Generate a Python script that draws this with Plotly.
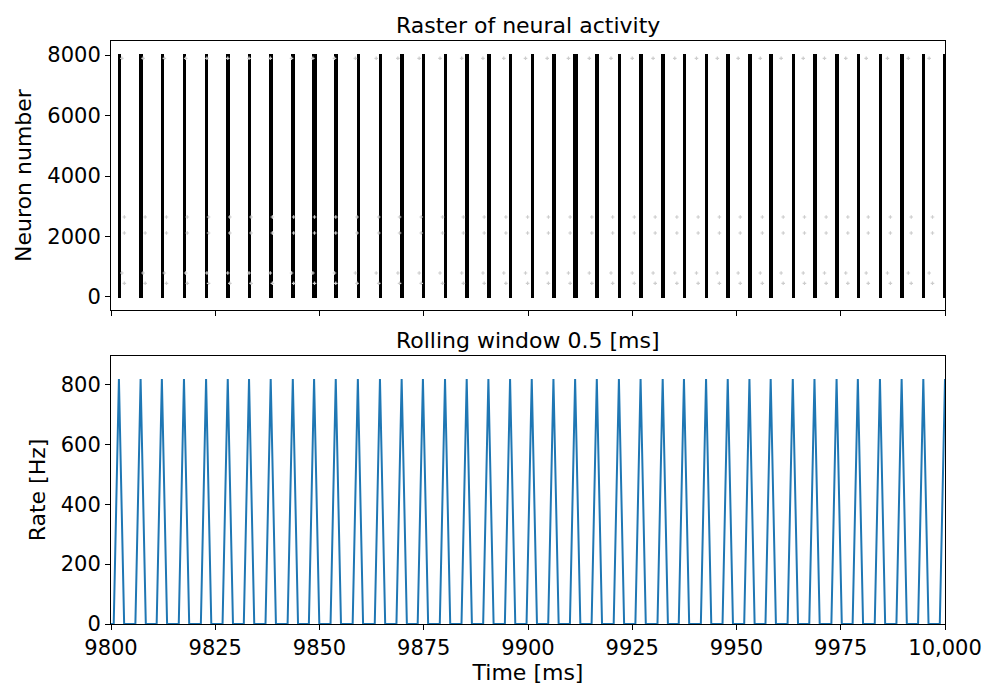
import plotly.graph_objects as go

# ---------------- data ----------------
# population burst times (ms) in the raster and their widths (ms)
burst_t = [9802.0, 9807.2, 9812.3, 9817.6, 9822.9, 9828.1, 9833.2, 9838.4, 9843.7,
           9848.8, 9854.0, 9859.3, 9864.6, 9869.8, 9874.9, 9880.2, 9885.4, 9890.6,
           9895.8, 9901.0, 9906.2, 9911.4, 9916.6, 9921.9, 9927.1, 9932.4, 9937.5,
           9942.8, 9948.0, 9953.2, 9958.3, 9963.6, 9968.8, 9974.1, 9979.2, 9984.5,
           9989.7, 9994.9, 10000.0]
burst_w = [0.84, 1.06, 0.84, 0.84, 0.84, 1.06, 0.78, 0.84, 0.84,
           1.12, 0.84, 0.84, 0.84, 1.06, 0.78, 0.84, 0.78, 1.06, 0.84,
           0.78, 1.06, 0.98, 0.84, 0.78, 0.98, 0.98, 0.84, 0.78, 0.98, 0.84,
           0.78, 0.78, 0.98, 0.98, 0.78, 0.78, 0.84, 0.84, 0.84]
neuron_min = -40
neuron_max = 8040

# sparse spikes of two small neuron groups
groupA_neurons = [7891, 793]
groupA_t = [9802.6, 9807.7, 9812.8, 9817.9, 9823.0, 9828.0, 9833.1, 9838.2, 9843.3,
            9848.4, 9853.6, 9858.6, 9863.6, 9868.8, 9873.9, 9878.9, 9884.1, 9889.2,
            9894.2, 9899.4, 9904.6, 9909.7, 9914.7, 9919.9, 9925.0, 9930.0, 9935.2,
            9940.4, 9945.4, 9950.4, 9955.7, 9960.7, 9966.0, 9971.1, 9976.2, 9981.1,
            9986.2, 9991.2, 9996.2]
groupB_neurons = [2645, 2116, 453]
groupB_t = [9803.2, 9808.2, 9813.3, 9818.3, 9823.4, 9828.5, 9833.6, 9838.7, 9843.8,
            9848.8, 9853.9, 9859.0, 9864.2, 9869.2, 9874.4, 9879.5, 9884.5, 9889.5,
            9894.7, 9899.9, 9904.9, 9910.1, 9915.3, 9920.3, 9925.5, 9930.5, 9935.7,
            9940.8, 9945.9, 9950.9, 9956.2, 9961.2, 9966.3, 9971.5, 9976.7, 9981.6,
            9986.9, 9991.9, 9997.0]

# population rate (rolling window 0.5 ms): onset, peak, offset of each burst
rate_onset = [9800.65, 9805.85, 9810.95, 9816.25, 9821.55, 9826.75, 9831.85, 9837.05,
              9842.35, 9847.45, 9852.65, 9857.95, 9863.25, 9868.45, 9873.55, 9878.85,
              9884.05, 9889.25, 9894.45, 9899.65, 9904.85, 9910.05, 9915.25, 9920.55,
              9925.75, 9931.05, 9936.15, 9941.45, 9946.65, 9951.85, 9956.95, 9962.25,
              9967.45, 9972.75, 9977.85, 9983.15, 9988.35, 9993.55, 9998.75]
rate_peak_t = [9801.9, 9807.1, 9812.2, 9817.5, 9822.8, 9828.0, 9833.1, 9838.3, 9843.6,
               9848.7, 9853.9, 9859.2, 9864.5, 9869.7, 9874.8, 9880.1, 9885.3, 9890.5,
               9895.7, 9900.9, 9906.1, 9911.3, 9916.5, 9921.8, 9927.0, 9932.3, 9937.4,
               9942.7, 9947.9, 9953.1, 9958.2, 9963.5, 9968.7, 9974.0, 9979.1, 9984.4,
               9989.6, 9994.8, 10000.0]
rate_offset = [9803.15, 9808.35, 9813.45, 9818.75, 9824.05, 9829.25, 9834.35, 9839.55,
               9844.85, 9849.95, 9855.15, 9860.45, 9865.75, 9870.95, 9876.05, 9881.35,
               9886.55, 9891.75, 9896.95, 9902.15, 9907.35, 9912.55, 9917.75, 9923.05,
               9928.25, 9933.55, 9938.65, 9943.95, 9949.15, 9954.35, 9959.45, 9964.75,
               9969.95, 9975.25, 9980.35, 9985.65, 9990.85, 9996.05, None]
rate_peak_hz = [818] * 39
rate_base_hz = 0
t_start = 9800

x_ticks = [9800, 9825, 9850, 9875, 9900, 9925, 9950, 9975, 10000]
x_ticklabels = ["9800", "9825", "9850", "9875", "9900", "9925", "9950", "9975", "10,000"]
raster_yticks = [0, 2000, 4000, 6000, 8000]
rate_yticks = [0, 200, 400, 600, 800]

# ---------------- build ----------------
FONT = "DejaVu Sans"
fig = go.Figure()

# sparse spikes (drawn first, under bars)
sx, sy = [], []
for n in groupA_neurons:
    sx += groupA_t
    sy += [n] * len(groupA_t)
for n in groupB_neurons:
    sx += groupB_t
    sy += [n] * len(groupB_t)
fig.add_trace(go.Scatter(x=sx, y=sy, mode="markers", xaxis="x", yaxis="y",
                         marker=dict(symbol="cross", size=3, color="#cdcdcd",
                                     line=dict(width=0)),
                         showlegend=False, hoverinfo="skip"))

fig.add_trace(go.Bar(x=burst_t, y=[neuron_max - neuron_min] * len(burst_t),
                     base=[neuron_min] * len(burst_t), width=burst_w,
                     marker=dict(color="black", line=dict(width=0)),
                     xaxis="x", yaxis="y", showlegend=False))

rx, ry = [t_start], [rate_base_hz]
for on, pk, off, h in zip(rate_onset, rate_peak_t, rate_offset, rate_peak_hz):
    rx += [on, pk]
    ry += [rate_base_hz, h]
    if off is not None:
        rx.append(off)
        ry.append(rate_base_hz)
fig.add_trace(go.Scatter(x=rx, y=ry, mode="lines", xaxis="x2", yaxis="y2",
                         line=dict(color="#1f77b4", width=2), showlegend=False))

axis_common = dict(showline=True, linecolor="black", linewidth=1, mirror=True,
                   ticks="outside", ticklen=5, tickwidth=1, tickcolor="black",
                   showgrid=False, zeroline=False,
                   tickfont=dict(family=FONT, size=21, color="black"))

top_dom = [1 - 269 / 583, 1.0]
bot_dom = [0.0, 268 / 583]

# page body adds an 8 px offset; margins compensate so the axes land in place
fig.update_layout(
    width=1000, height=700,
    margin=dict(l=103, r=63, t=33, b=84),
    paper_bgcolor="white", plot_bgcolor="white",
    barmode="overlay", bargap=0,
    font=dict(family=FONT, size=22, color="black"),
    xaxis=dict(domain=[0, 1], anchor="y", range=[9800, 10000],
               tickvals=x_ticks, ticktext=[""] * len(x_ticks), **axis_common),
    yaxis=dict(domain=top_dom, anchor="x", range=[-430, 8463],
               tickvals=raster_yticks,
               title=dict(text="Neuron number", standoff=9,
                          font=dict(family=FONT, size=22)),
               **axis_common),
    xaxis2=dict(domain=[0, 1], anchor="y2", range=[9800, 10000], matches="x",
                tickvals=x_ticks, ticktext=x_ticklabels,
                title=dict(text="Time [ms]", standoff=4,
                           font=dict(family=FONT, size=22)),
                **axis_common),
    yaxis2=dict(domain=bot_dom, anchor="x2", range=[0, 895],
                tickvals=rate_yticks,
                title=dict(text="Rate [Hz]", standoff=9,
                           font=dict(family=FONT, size=22)),
                **axis_common),
    annotations=[
        dict(text="Raster of neural activity", xref="paper", yref="paper",
             x=0.5, y=top_dom[1], xanchor="center", yanchor="bottom", yshift=1,
             showarrow=False, font=dict(family=FONT, size=22, color="black")),
        dict(text="Rolling window 0.5 [ms]", xref="paper", yref="paper",
             x=0.5, y=bot_dom[1], xanchor="center", yanchor="bottom", yshift=1,
             showarrow=False, font=dict(family=FONT, size=22, color="black")),
    ],
)

fig.write_html("out.html")
